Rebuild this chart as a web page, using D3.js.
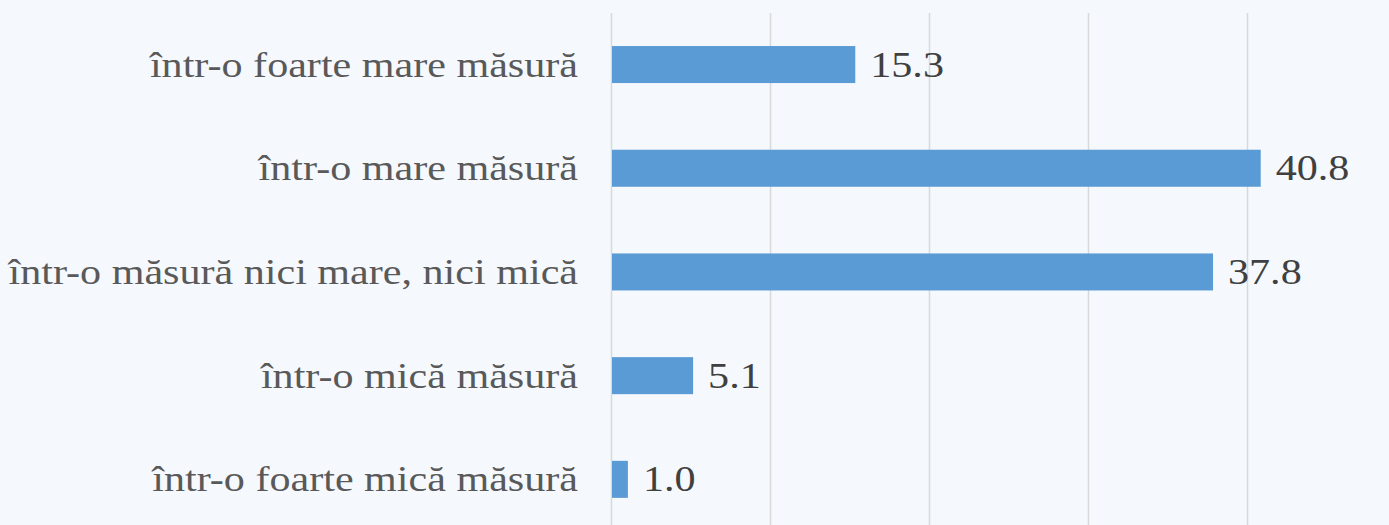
<!DOCTYPE html>
<html><head><meta charset="utf-8">
<script src="https://cdn.jsdelivr.net/npm/d3@7"></script>
<style>html,body{margin:0;padding:0;background:#f5f8fd;}</style>
</head><body>
<svg id="chart" width="1389" height="525"></svg>
<script>
const categories = ["într-o foarte mare măsură","într-o mare măsură","într-o măsură nici mare, nici mică","într-o mică măsură","într-o foarte mică măsură"];
const values = [15.3, 40.8, 37.8, 5.1, 1.0];
const tickValues = [0, 10, 20, 30, 40];

const W = 1389, H = 525;
const stretch = 1.17;
const svg = d3.select("#chart");
svg.append("rect").attr("width", W).attr("height", H).attr("fill", "#f5f8fd");

const x = d3.scaleLinear().domain([0, 40]).range([611, 1247]);
const y = d3.scaleBand().domain(categories).range([12.7, 531.2]).paddingInner(0.643).paddingOuter(0.3215);

svg.append("g").selectAll("line").data(tickValues).join("line")
  .attr("x1", d => Math.round(x(d)) + 0.5).attr("x2", d => Math.round(x(d)) + 0.5)
  .attr("y1", 13).attr("y2", H)
  .attr("stroke", "#d9d9d9").attr("stroke-width", 1.5);

svg.append("g").selectAll("rect").data(values).join("rect")
  .attr("x", x(0) + 1).attr("y", (d, i) => y(categories[i]))
  .attr("width", d => x(d) - x(0)).attr("height", y.bandwidth())
  .attr("fill", "#5b9bd5");

const font = "'Liberation Serif', 'DejaVu Serif', serif";
svg.append("g").selectAll("text").data(categories).join("text")
  .attr("transform", d => `translate(578,${y(d) + y.bandwidth() / 2 + 12}) scale(${stretch},1)`)
  .attr("text-anchor", "end")
  .attr("font-family", font).attr("font-size", 36)
  .attr("fill", "#595959")
  .text(d => d);

svg.append("g").selectAll("text").data(values).join("text")
  .attr("transform", (d, i) => `translate(${x(d) + 16},${y(categories[i]) + y.bandwidth() / 2 + 12}) scale(${stretch},1)`)
  .attr("font-family", font).attr("font-size", 36)
  .attr("fill", "#404040")
  .text(d => d.toFixed(1));
</script>
</body></html>
